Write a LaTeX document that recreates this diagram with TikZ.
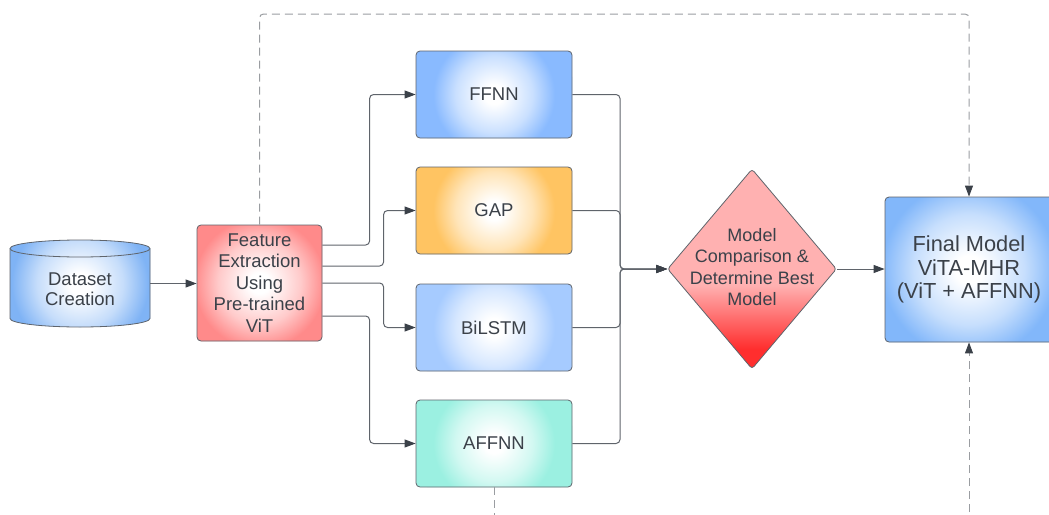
\documentclass[tikz,border=0pt]{standalone}
\usepackage{fontspec}
\setmainfont{Liberation Sans}
\usetikzlibrary{shapes.geometric,arrows.meta,calc}
\definecolor{txt}{HTML}{3B4149}
\definecolor{edge}{HTML}{5F646B}
\definecolor{lnc}{HTML}{5F646B}
\definecolor{dashc}{HTML}{9A9DA1}
\definecolor{tipc}{HTML}{3B4149}
\definecolor{cylb}{HTML}{7FB3F5}
\definecolor{fer}{HTML}{FF8A8A}
\definecolor{ffb}{HTML}{89BAFF}
\definecolor{gapo}{HTML}{FFC462}
\definecolor{bib}{HTML}{A6CBFF}
\definecolor{aft}{HTML}{9BF0E1}
\definecolor{finb}{HTML}{82B7FA}
\definecolor{dpink}{HTML}{FFB1B1}
\definecolor{dred}{HTML}{FF2E2E}
\newcommand{\mkglow}[2]{\pgfdeclareradialshading{#1}{\pgfpoint{0bp}{0bp}}{color(0bp)=(white);color(3bp)=(white);color(12bp)=(#2!45!white);color(19bp)=(#2);color(50bp)=(#2)}}
\mkglow{glowcyl}{cylb}
\mkglow{glowfe}{fer}
\mkglow{glowffb}{ffb}
\mkglow{glowgap}{gapo}
\mkglow{glowbib}{bib}
\mkglow{glowaft}{aft}
\mkglow{glowfin}{finb}
\pgfdeclareverticalshading{diashade}{100bp}{color(0bp)=(dred);color(30bp)=(dred);color(46bp)=(dpink);color(100bp)=(dpink)}
\begin{document}
\begin{tikzpicture}[x=1pt,y=1pt,
  font=\fontsize{18.5}{21.5}\selectfont, text=txt,
  glow/.style n args={3}{fill=#1, path picture={\shade[shading=#2] (path picture bounding box.center) circle (#3);}},
  box/.style={rectangle, rounded corners=4pt, draw=edge, line width=0.8pt,
    minimum width=156pt, minimum height=87pt, align=center, inner sep=0pt},
  tip/.style={-{Triangle[length=11pt,width=8pt,color=tipc]}},
  conn/.style={draw=lnc, line width=1pt, rounded corners=4pt, tip},
  dashline/.style={draw=dashc, line width=1pt, dash pattern=on 8pt off 5pt, rounded corners=4pt}
]
\useasboundingbox (0,0) rectangle (1049,-514);
\clip (0,0) rectangle (1049,-514);

% dataset cylinder (drawn directly) with a named anchor node
\path[draw=edge, line width=0.8pt, glow={cylb}{glowcyl}{90pt}]
  (10,-248.5) -- (10,-318.5) arc[start angle=180, end angle=360, x radius=70pt, y radius=8.5pt]
  -- (150,-248.5) arc[start angle=0, end angle=180, x radius=70pt, y radius=8.5pt] -- cycle;
\draw[edge, line width=0.8pt] (10,-248.5) arc[start angle=180, end angle=360, x radius=70pt, y radius=8.5pt];
\node[minimum width=140pt, minimum height=87pt, inner sep=0pt] (ds) at (80,-283.5) {};
\node[align=center, font=\fontsize{18.5}{20.5}\selectfont] (dst) at (80,-289) {Dataset\\Creation};

\node[box, minimum width=125pt, minimum height=116pt, glow={fer}{glowfe}{86pt}] (fe) at (259.5,-283) {Feature\\Extraction\\Using\\Pre-trained\\ViT};
\node[box, glow={ffb}{glowffb}{80pt}] (ffnn) at (494,-94.5) {FFNN};
\node[box, glow={gapo}{glowgap}{80pt}] (gap) at (494,-210.5) {GAP};
\node[box, glow={bib}{glowbib}{80pt}] (bil) at (494,-327.5) {BiLSTM};
\node[box, glow={aft}{glowaft}{80pt}] (aff) at (494,-443.5) {AFFNN};
\node[diamond, draw=edge, line width=0.8pt, minimum width=169pt, minimum height=200pt,
  inner sep=0pt, shade, shading=diashade, rounded corners=3pt] (dia) at (752,-269) {};
\node[align=center, font=\fontsize{18}{21.3}\selectfont] (diat) at (752,-267) {Model\\Comparison \&\\Determine Best\\Model};
\node[box, minimum width=168pt, minimum height=145pt, glow={finb}{glowfin}{115pt},
  font=\fontsize{21.8}{23.3}\selectfont] (fin) at (969,-269.5) {Final Model\\ViTA-MHR\\(ViT + AFFNN)};

\coordinate (m) at (620,-269);
\coordinate (tr) at (969,-14);
\coordinate (bl) at (494,-525);
\coordinate (br) at (969,-525);

% connectors
\draw[conn] (ds.east) -- (fe.west |- ds.east);
\draw[conn] ([yshift=38pt]fe.east) -| ([xshift=-46pt]ffnn.west) -- (ffnn.west);
\draw[conn] ([yshift=17pt]fe.east) -| ([xshift=-32pt]gap.west) -- (gap.west);
\draw[conn] (fe.east) -| ([xshift=-32pt]bil.west) -- (bil.west);
\draw[conn] ([yshift=-33pt]fe.east) -| ([xshift=-46pt]aff.west) -- (aff.west);

\draw[conn] (ffnn.east) -| (m) -- (dia.west);
\draw[conn] (gap.east) -| (m) -- (dia.west);
\draw[conn] (bil.east) -| (m) -- (dia.west);
\draw[conn] (aff.east) -| (m) -- (dia.west);

\draw[conn] (dia.east) -- (fin.west |- dia.east);

\draw[dashline, tip] (fe.north) |- (tr) -- (fin.north);
\draw[dashline] (aff.south) -- (bl);
\draw[dashline, tip] (br) -- (fin.south);
\end{tikzpicture}
\end{document}
